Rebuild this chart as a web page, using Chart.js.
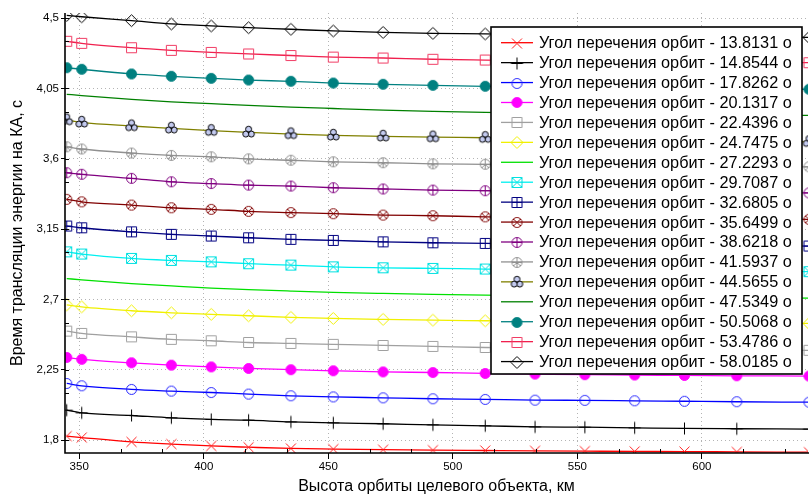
<!DOCTYPE html>
<html>
<head>
<meta charset="utf-8">
<script src="https://cdn.jsdelivr.net/npm/chart.js@4.4.1/dist/chart.umd.min.js"></script>
<style>
  html, body { margin: 0; padding: 0; background: #fff; }
</style>
</head>
<body>
<canvas id="chart" width="809" height="495"></canvas>
<script>
// Высота орбиты, км (точки с маркерами)
const heights = [345, 351, 371, 387, 403, 418, 435, 452, 472, 492, 513, 533, 553, 573, 593, 614, 643];

const xTicks = [350, 400, 450, 500, 550, 600];
const yTicks = [1.8, 2.25, 2.7, 3.15, 3.6, 4.05, 4.5];

const angles = ['13.8131', '14.8544', '17.8262', '20.1317', '22.4396', '24.7475', '27.2293', '29.7087',
  '32.6805', '35.6499', '38.6218', '41.5937', '44.5655', '47.5349', '50.5068', '53.4786', '58.0185'];

// Время трансляции энергии, с
const t13_8131 = [1.825, 1.816, 1.788, 1.774, 1.762, 1.754, 1.746, 1.742, 1.738, 1.735, 1.733, 1.731, 1.729, 1.727, 1.726, 1.724, 1.722];
const t14_8544 = [1.991, 1.974, 1.957, 1.942, 1.932, 1.927, 1.916, 1.910, 1.904, 1.897, 1.891, 1.884, 1.882, 1.878, 1.874, 1.872, 1.870];
const t17_8262 = [2.162, 2.147, 2.124, 2.113, 2.104, 2.094, 2.083, 2.076, 2.070, 2.064, 2.060, 2.055, 2.054, 2.051, 2.048, 2.045, 2.042];
const t20_1317 = [2.328, 2.316, 2.294, 2.279, 2.268, 2.258, 2.250, 2.243, 2.236, 2.232, 2.226, 2.222, 2.218, 2.216, 2.213, 2.211, 2.209];
const t22_4396 = [2.497, 2.482, 2.460, 2.444, 2.435, 2.424, 2.418, 2.412, 2.405, 2.399, 2.392, 2.388, 2.384, 2.381, 2.378, 2.376, 2.374];
const t24_7475 = [2.665, 2.652, 2.627, 2.614, 2.604, 2.595, 2.585, 2.578, 2.572, 2.567, 2.563, 2.559, 2.556, 2.553, 2.551, 2.549, 2.546];
const t27_2293 = [2.833, 2.825, 2.801, 2.786, 2.772, 2.762, 2.753, 2.745, 2.738, 2.732, 2.727, 2.723, 2.719, 2.716, 2.713, 2.711, 2.708];
const t29_7087 = [3.004, 2.990, 2.962, 2.949, 2.940, 2.928, 2.919, 2.908, 2.902, 2.898, 2.894, 2.890, 2.887, 2.884, 2.881, 2.880, 2.877];
const t32_6805 = [3.169, 3.158, 3.132, 3.116, 3.105, 3.094, 3.084, 3.077, 3.068, 3.062, 3.058, 3.054, 3.051, 3.048, 3.046, 3.044, 3.041];
const t35_6499 = [3.340, 3.324, 3.303, 3.286, 3.276, 3.263, 3.255, 3.248, 3.239, 3.235, 3.228, 3.225, 3.221, 3.219, 3.217, 3.215, 3.212];
const t38_6218 = [3.510, 3.500, 3.474, 3.452, 3.441, 3.431, 3.425, 3.414, 3.406, 3.399, 3.395, 3.392, 3.389, 3.387, 3.385, 3.383, 3.381];
const t41_5937 = [3.676, 3.662, 3.636, 3.621, 3.612, 3.599, 3.590, 3.580, 3.574, 3.567, 3.564, 3.560, 3.557, 3.554, 3.552, 3.550, 3.548];
const t44_5655 = [3.847, 3.832, 3.809, 3.794, 3.779, 3.768, 3.758, 3.749, 3.743, 3.738, 3.734, 3.729, 3.724, 3.720, 3.717, 3.713, 3.708];
const t47_5349 = [4.012, 4.004, 3.980, 3.964, 3.952, 3.941, 3.930, 3.921, 3.911, 3.903, 3.896, 3.892, 3.888, 3.885, 3.882, 3.880, 3.877];
const t50_5068 = [4.182, 4.172, 4.142, 4.127, 4.114, 4.103, 4.095, 4.084, 4.076, 4.069, 4.063, 4.058, 4.055, 4.051, 4.048, 4.046, 4.044];
const t53_4786 = [4.351, 4.338, 4.310, 4.293, 4.280, 4.270, 4.260, 4.250, 4.244, 4.236, 4.231, 4.227, 4.224, 4.221, 4.218, 4.216, 4.214];
const t58_0185 = [4.517, 4.508, 4.483, 4.462, 4.449, 4.438, 4.428, 4.417, 4.408, 4.402, 4.398, 4.393, 4.389, 4.385, 4.382, 4.380, 4.376];

const series = [t13_8131, t14_8544, t17_8262, t20_1317, t22_4396, t24_7475, t27_2293, t29_7087,
  t32_6805, t35_6499, t38_6218, t41_5937, t44_5655, t47_5349, t50_5068, t53_4786, t58_0185];

// line colour, marker kind, marker stroke, marker fill
const styles = [
  ['#ff0000', 'x', '#ff2020'],
  ['#000000', 'plus', '#000000'],
  ['#0000ff', 'circle', '#2020ff'],
  ['#ff00ff', 'circle', '#ff00ff', '#ff00ff'],
  ['#a0a0a0', 'square', '#a0a0a0'],
  ['#f0f000', 'diamond', '#f0f000'],
  ['#00e000', null],
  ['#00f0f0', 'squareX', '#00e0e0'],
  ['#000080', 'squarePlus', '#000080'],
  ['#800000', 'circleX', '#800000'],
  ['#800080', 'circlePlus', '#800080'],
  ['#909090', 'peace', '#909090'],
  ['#808000', 'propeller', '#000000', '#c4cbf0'],
  ['#008000', null],
  ['#008080', 'circle', '#008080', '#008080'],
  ['#f0204e', 'square', '#f03c64'],
  ['#000000', 'diamond', '#000000']
];

function makeMarker(kind, color, fill) {
  const c = document.createElement('canvas');
  c.width = 17;
  c.height = 17;
  const g = c.getContext('2d');
  const m = 8.5;
  g.strokeStyle = color;
  g.fillStyle = fill || color;
  g.lineWidth = 1;
  g.beginPath();
  if (kind === 'x') {
    g.moveTo(m - 5, m - 5); g.lineTo(m + 5, m + 5);
    g.moveTo(m + 5, m - 5); g.lineTo(m - 5, m + 5);
  } else if (kind === 'plus') {
    g.moveTo(m - 6, m); g.lineTo(m + 6, m);
    g.moveTo(m, m - 6); g.lineTo(m, m + 6);
  } else if (kind === 'circle') {
    g.arc(m, m, 5, 0, Math.PI * 2);
    if (fill) g.fill();
  } else if (kind === 'square') {
    g.rect(m - 5, m - 5, 10, 10);
  } else if (kind === 'diamond') {
    g.moveTo(m, m - 6); g.lineTo(m + 6, m); g.lineTo(m, m + 6); g.lineTo(m - 6, m); g.closePath();
  } else if (kind === 'squareX') {
    g.rect(m - 5, m - 5, 10, 10);
    g.moveTo(m - 5, m - 5); g.lineTo(m + 5, m + 5);
    g.moveTo(m + 5, m - 5); g.lineTo(m - 5, m + 5);
  } else if (kind === 'squarePlus') {
    g.rect(m - 5, m - 5, 10, 10);
    g.moveTo(m - 5, m); g.lineTo(m + 5, m);
    g.moveTo(m, m - 5); g.lineTo(m, m + 5);
  } else if (kind === 'circleX') {
    g.arc(m, m, 5, 0, Math.PI * 2);
    g.moveTo(m - 3.5, m - 3.5); g.lineTo(m + 3.5, m + 3.5);
    g.moveTo(m + 3.5, m - 3.5); g.lineTo(m - 3.5, m + 3.5);
  } else if (kind === 'circlePlus') {
    g.arc(m, m, 5, 0, Math.PI * 2);
    g.moveTo(m - 5, m); g.lineTo(m + 5, m);
    g.moveTo(m, m - 5); g.lineTo(m, m + 5);
  } else if (kind === 'peace') {
    g.arc(m, m, 5, 0, Math.PI * 2);
    g.moveTo(m, m - 5); g.lineTo(m, m + 5);
    g.moveTo(m, m); g.lineTo(m - 3.5, m + 3.5);
    g.moveTo(m, m); g.lineTo(m + 3.5, m + 3.5);
    g.moveTo(m - 5, m); g.lineTo(m + 5, m);
  } else if (kind === 'propeller') {
    [-90, 30, 150].forEach((a) => {
      const r = a * Math.PI / 180;
      g.beginPath();
      g.arc(m + Math.cos(r) * 3.2, m + Math.sin(r) * 3.2, 3, 0, Math.PI * 2);
      g.fill();
      g.stroke();
    });
    g.beginPath();
    g.arc(m, m, 1, 0, Math.PI * 2);
    g.fillStyle = '#000';
    g.fill();
    return c;
  }
  g.stroke();
  return c;
}

const markers = styles.map((s) => (s[1] ? makeMarker(s[1], s[2], s[3]) : null));

const datasets = series.map((values, i) => ({
  label: 'Угол перечения орбит - ' + angles[i] + ' o',
  data: values.map((v, j) => ({ x: heights[j], y: v })),
  borderColor: styles[i][0],
  backgroundColor: styles[i][0],
  borderWidth: 1.3,
  cubicInterpolationMode: 'monotone',
  pointStyle: markers[i] || false,
  pointRadius: markers[i] ? 5 : 0,
  clip: 0
}));

const font = 'Liberation Sans';

const decorations = {
  id: 'decorations',
  afterDraw(chart) {
    const ctx = chart.ctx;
    const area = chart.chartArea;
    const xs = chart.scales.x;
    const ys = chart.scales.y;

    // solid axis lines (grid lines are dotted)
    ctx.save();
    ctx.strokeStyle = '#000';
    ctx.lineWidth = 1.6;
    ctx.beginPath();
    ctx.moveTo(area.left, area.top);
    ctx.lineTo(area.left, area.bottom);
    ctx.lineTo(area.right + 1, area.bottom);
    ctx.stroke();

    // minor ticks, pointing inside the plot
    ctx.lineWidth = 1;
    ctx.beginPath();
    for (let k = 0; k < 30; k++) {
      const v = 300 + k * 50 / 3;
      if (k % 3 === 0 || v <= xs.min || v >= xs.max) continue;
      const px = Math.round(xs.getPixelForValue(v)) + 0.5;
      ctx.moveTo(px, area.bottom);
      ctx.lineTo(px, area.bottom - 4);
    }
    for (let k = 0; k < 30; k++) {
      const v = 1.5 + k * 0.15;
      if (k % 3 === 0 || v <= ys.min || v >= ys.max) continue;
      const py = Math.round(ys.getPixelForValue(v)) + 0.5;
      ctx.moveTo(area.left, py);
      ctx.lineTo(area.left + 4, py);
    }
    ctx.stroke();
    ctx.restore();

    // legend box laid over the plot
    const box = { left: 491, top: 27, right: 802, bottom: 374 };
    ctx.save();
    ctx.fillStyle = '#fff';
    ctx.fillRect(box.left, box.top, box.right - box.left, box.bottom - box.top);
    ctx.strokeStyle = '#000';
    ctx.lineWidth = 1.6;
    ctx.strokeRect(box.left, box.top, box.right - box.left, box.bottom - box.top);

    let size = 18;
    ctx.font = size + 'px "' + font + '"';
    while (size > 10 && ctx.measureText(chart.data.datasets[0].label).width > 253) {
      size -= 0.25;
      ctx.font = size + 'px "' + font + '"';
    }
    ctx.textBaseline = 'middle';
    ctx.textAlign = 'left';
    chart.data.datasets.forEach((ds, i) => {
      const y = box.top + 15.7 + i * 19.93;
      ctx.beginPath();
      ctx.strokeStyle = ds.borderColor;
      ctx.lineWidth = 1.3;
      ctx.moveTo(501, y);
      ctx.lineTo(533, y);
      ctx.stroke();
      if (markers[i]) ctx.drawImage(markers[i], 517 - 8.5, Math.round(y) - 8.5 + 0.5);
      ctx.fillStyle = '#000';
      ctx.fillText(ds.label, 539, y + 1);
    });
    ctx.restore();
  }
};

new Chart(document.getElementById('chart'), {
  type: 'line',
  data: { datasets: datasets },
  options: {
    responsive: false,
    animation: false,
    devicePixelRatio: 1,
    layout: { autoPadding: false, padding: { left: 0, right: 1, top: 13, bottom: 0 } },
    plugins: {
      legend: { display: false },
      tooltip: { enabled: false }
    },
    scales: {
      x: {
        type: 'linear',
        min: 344.3,
        max: 642.6,
        afterBuildTicks: (scale) => { scale.ticks = xTicks.map((v) => ({ value: v })); },
        afterFit: (scale) => {
          scale.height = 42;
          scale.paddingLeft = 0;
          scale.paddingRight = 0;
        },
        ticks: {
          color: '#000',
          padding: 1,
          maxRotation: 0,
          font: { family: font, size: 11.5 },
          callback: (v) => String(v)
        },
        grid: {
          color: '#b4b4b4',
          lineWidth: 1,
          drawTicks: true,
          tickLength: 6,
          tickColor: '#000',
          tickWidth: 1
        },
        border: { display: false, dash: [1, 3] },
        title: {
          display: true,
          text: 'Высота орбиты целевого объекта, км',
          color: '#000',
          font: { family: font, size: 16, lineHeight: 1 },
          padding: { top: 0, bottom: 0 }
        }
      },
      y: {
        type: 'linear',
        min: 1.717,
        max: 4.532,
        afterBuildTicks: (scale) => { scale.ticks = yTicks.map((v) => ({ value: v })); },
        afterFit: (scale) => {
          scale.width = 65;
          scale.paddingTop = 0;
          scale.paddingBottom = 0;
        },
        ticks: {
          color: '#000',
          padding: 2,
          font: { family: font, size: 11.5 },
          callback: (v) => String(v).replace('.', ',')
        },
        grid: {
          color: '#b4b4b4',
          lineWidth: 1,
          drawTicks: true,
          tickLength: 4,
          tickColor: '#000',
          tickWidth: 1
        },
        border: { display: false, dash: [1, 3] },
        title: {
          display: true,
          text: 'Время трансляции энергии на КА, с',
          color: '#000',
          font: { family: font, size: 16, lineHeight: 1.2 },
          padding: { top: 8, bottom: 0 }
        }
      }
    }
  },
  plugins: [decorations]
});
</script>
</body>
</html>
